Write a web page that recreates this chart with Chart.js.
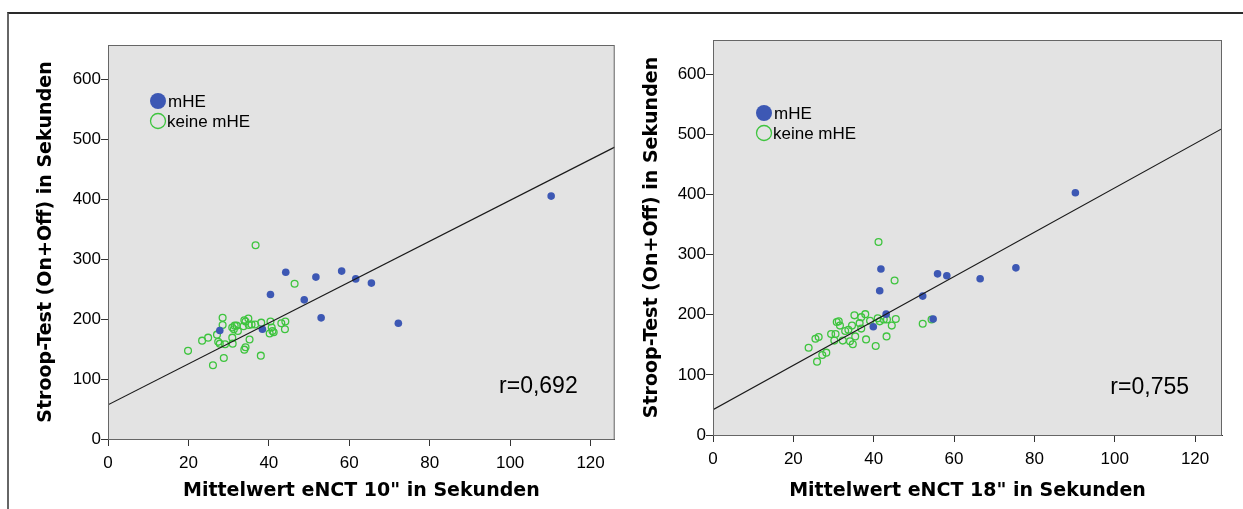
<!DOCTYPE html>
<html>
<head>
<meta charset="utf-8">
<script src="https://cdn.jsdelivr.net/npm/chart.js@4.4.1/dist/chart.umd.min.js"></script>
<style>
  body { margin: 0; background: #fff; width: 1243px; height: 509px; overflow: hidden; position: relative; }
  #frame { position: absolute; left: 7px; top: 12px; right: 0; bottom: 0; border-top: 2px solid #2a2a2a; border-left: 2px solid #666; }
  canvas { position: absolute; top: 0; }
</style>
</head>
<body>
<div id="frame"></div>
<canvas id="chart10" width="620" height="509" style="left:0"></canvas>
<canvas id="chart18" width="623" height="509" style="left:620px"></canvas>
<script>
// eNCT 10" : [mean time, Stroop on+off]
const mhe10 = [[110.2,405],[44.2,278],[51.7,270],[58.1,280],[61.6,267],[65.5,260],[40.4,241],
  [48.8,232],[53.0,202],[72.2,193],[38.4,183],[27.8,181]];
const keine10 = [[36.7,323],[46.4,259],[28.5,202],[28.5,190],[23.4,164],[24.9,169],[19.9,147],
  [26.1,123],[28.8,135],[38.0,139],[27.1,174],[27.4,162],[27.8,159],[29.1,158],[30.9,169],
  [31.0,159],[30.9,186],[31.5,189],[32.0,189],[31.3,183],[32.3,180],[33.9,198],[34.9,201],
  [34.2,196],[33.7,188],[35.0,190],[35.7,191],[36.6,191],[38.1,194],[35.2,166],[34.2,153],
  [33.9,149],[40.4,196],[40.7,186],[40.9,180],[40.2,176],[41.2,178],[43.1,193],[44.1,196],[44.0,183]];

// eNCT 18"
const mhe18 = [[90.2,403],[55.9,268],[58.2,265],[66.5,260],[75.4,278],[52.2,231],[54.8,193],
  [41.8,276],[41.5,240],[43.1,201],[39.9,180]];
const keine18 = [[41.2,321],[45.2,257],[23.8,145],[25.5,160],[26.3,163],[25.9,122],[27.2,133],
  [28.2,137],[29.4,168],[30.5,168],[30.2,157],[30.8,188],[31.3,189],[31.6,182],[32.3,157],
  [32.9,173],[33.7,175],[34.1,156],[34.8,151],[35.4,164],[34.6,182],[35.2,199],[36.5,186],
  [36.9,196],[36.9,177],[37.9,201],[38.1,159],[40.5,148],[39.1,190],[41.0,194],[41.5,189],
  [42.5,192],[43.3,192],[43.2,164],[44.5,182],[45.5,193],[52.2,185],[54.4,192]];

// regression lines: [intercept, slope]
const fit10 = [57, 3.41];
const fit18 = [42, 3.69];
const rLabels = ['r=0,692', 'r=0,755'];

const xTicks = [0, 20, 40, 60, 80, 100, 120];
const yTicks = [0, 100, 200, 300, 400, 500, 600];
const xTitles = ['Mittelwert eNCT 10" in Sekunden', 'Mittelwert eNCT 18" in Sekunden'];
const yTitle = 'Stroop-Test (On+Off) in Sekunden';
const seriesNames = ['mHE', 'keine mHE'];

const BLUE = '#3d58b4';
const GREEN = '#3ec43e';
const tickFont = { family: 'Liberation Sans', size: 17 };
const titleFont = { family: 'DejaVu Sans', weight: 'bold', size: 19 };

function toPoints(arr) {
  return arr.map(p => ({ x: p[0], y: p[1] }));
}

// grey plot box, frame, legend and r value
const plotBox = {
  id: 'plotBox',
  beforeDraw(chart) {
    const a = chart.chartArea, c = chart.ctx;
    c.save();
    c.fillStyle = '#e3e3e3';
    c.fillRect(a.left, a.top, a.right - a.left, a.bottom - a.top);
    c.restore();
  },
  afterDatasetsDraw(chart, args, opts) {
    const a = chart.chartArea, c = chart.ctx;
    c.save();
    c.strokeStyle = '#666';
    c.lineWidth = 1;
    c.strokeRect(a.left + 0.5, a.top + 0.5, a.right - a.left - 1, a.bottom - a.top);

    // legend
    const lx = a.left + opts.legendX, ly = a.top + opts.legendY;
    c.font = '17px "Liberation Sans"';
    c.textBaseline = 'middle';
    c.fillStyle = BLUE;
    c.beginPath(); c.arc(lx, ly, 8, 0, Math.PI * 2); c.fill();
    c.strokeStyle = GREEN; c.lineWidth = 1.3;
    c.beginPath(); c.arc(lx, ly + 20, 7.5, 0, Math.PI * 2); c.stroke();
    c.fillStyle = '#000';
    c.fillText(seriesNames[0], lx + 10, ly + 1);
    c.fillText(seriesNames[1], lx + 9, ly + 21);

    // correlation
    c.font = '23px "Liberation Sans"';
    c.textAlign = 'right';
    c.fillText(opts.r, a.right - opts.rRight, a.bottom - opts.rUp);
    c.restore();
  }
};

function makeChart(id, mhe, keine, fit, box) {
  const ctx = document.getElementById(id).getContext('2d');
  return new Chart(ctx, {
    type: 'scatter',
    data: {
      datasets: [
        { label: 'fit', type: 'line', order: 0,
          data: [{ x: 0, y: fit[0] }, { x: box.xMax, y: fit[0] + fit[1] * box.xMax }],
          borderColor: '#1a1a1a', borderWidth: 1.2, pointRadius: 0, fill: false },
        { label: seriesNames[0], order: 1, data: toPoints(mhe),
          backgroundColor: BLUE, borderColor: BLUE, pointRadius: 3.8, borderWidth: 0 },
        { label: seriesNames[1], order: 2, data: toPoints(keine),
          backgroundColor: 'rgba(0,0,0,0)', borderColor: GREEN, pointRadius: 3.4, borderWidth: 1.3 }
      ]
    },
    options: {
      responsive: false,
      animation: false,
      layout: { padding: { top: box.top, right: box.right, left: 0, bottom: 0 } },
      plugins: {
        legend: { display: false },
        tooltip: { enabled: false },
        plotBox: { legendX: box.legendX, legendY: box.legendY, r: box.r, rRight: box.rRight, rUp: box.rUp }
      },
      scales: {
        x: {
          type: 'linear', min: 0, max: box.xMax,
          afterBuildTicks: s => { s.ticks = xTicks.map(v => ({ value: v })); },
          afterFit: s => { s.height = box.xHeight; },
          grid: { drawOnChartArea: false, tickLength: 7, color: '#333' },
          border: { color: '#333' },
          ticks: { font: tickFont, color: '#000', padding: 7, maxRotation: 0 },
          title: { display: true, text: box.xTitle, font: titleFont, color: '#000', padding: { top: 0, bottom: 7 } }
        },
        y: {
          type: 'linear', min: 0, max: 657,
          afterBuildTicks: s => { s.ticks = yTicks.map(v => ({ value: v })); },
          afterFit: s => { s.width = box.yWidth; },
          grid: { drawOnChartArea: false, tickLength: 7, color: '#333' },
          border: { color: '#333' },
          ticks: { font: tickFont, color: '#000', padding: 0 },
          title: { display: true, text: yTitle, font: titleFont, color: '#000', padding: { top: box.yTitlePad, bottom: 0 } }
        }
      }
    },
    plugins: [plotBox]
  });
}

makeChart('chart10', mhe10, keine10, fit10, {
  top: 45, right: 4, yWidth: 108, xHeight: 70, xMax: 126, yTitlePad: 35,
  xTitle: xTitles[0], legendX: 50, legendY: 56, r: rLabels[0], rRight: 37, rUp: 52
});
makeChart('chart18', mhe18, keine18, fit18, {
  top: 40, right: 21, yWidth: 93, xHeight: 74, xMax: 126.7, yTitlePad: 21,
  xTitle: xTitles[1], legendX: 51, legendY: 73, r: rLabels[1], rRight: 33, rUp: 47
});
</script>
</body>
</html>
